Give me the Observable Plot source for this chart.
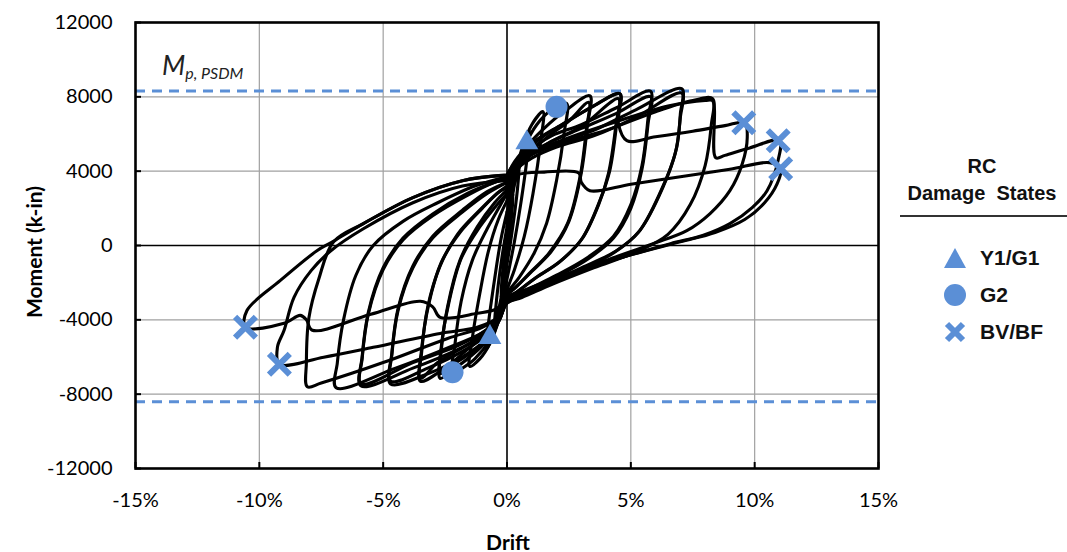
<!DOCTYPE html>
<html><head><meta charset="utf-8">
<script src="https://cdn.jsdelivr.net/npm/d3@7"></script>
<script src="https://cdn.jsdelivr.net/npm/@observablehq/plot@0.6"></script>
<style>
body{margin:0;background:#fff;}
#wrap{position:relative;width:1067px;height:552px;overflow:hidden;background:#fff;}
.ttl{position:absolute;font-family:Lato,sans-serif;font-weight:bold;font-size:21px;line-height:1;color:#000;white-space:nowrap;}
#legend{position:absolute;left:895px;top:153px;width:172px;font-family:"Liberation Sans",Arial,sans-serif;font-weight:bold;color:#111;}
#legend .head{text-align:center;font-size:20px;line-height:27px;padding-left:2px;}
#legend .rule{height:2px;background:#333;margin:8px 0 0 5px;}
#legend .item{display:flex;align-items:center;font-size:21px;height:37px;}
#legend .item svg{margin-left:48px;margin-right:13px;}
</style></head><body><div id="wrap"></div><script>
const xTicks = [-15,-10,-5,0,5,10,15];
const yTicks = [-12000,-8000,-4000,0,4000,8000,12000];
const xGrid = [-10,-5,5,10];
const yGrid = [-8000,-4000,4000,8000];
const mpLines = [8320,-8410];

const loop01 = [[0,0],[0.12,1500],[0.25,2800],[0.2,1800],[0.05,-100],[-0.12,-1600],[-0.25,-2800],[-0.2,-1800],[-0.05,100],[0,400]];
const loop02 = [[0,400],[0.25,2900],[0.5,4500],[0.42,3000],[0.2,700],[0,-1000],[-0.25,-2900],[-0.5,-4300],[-0.42,-2900],[-0.2,-600],[0,1000]];
const loop03 = [[0,1000],[0.3,3400],[0.6,5000],[0.9,6200],[0.8,4600],[0.55,2200],[0.3,200],[0,-1800],[-0.3,-3700],[-0.6,-5000],[-0.85,-5600],[-0.75,-4200],[-0.5,-1800],[-0.25,300],[0,1800]];
const loop04 = [[0,1800],[0.3,3600],[0.6,5200],[1.0,6500],[1.45,7200],[1.35,5500],[1.05,2800],[0.7,500],[0.3,-1300],[0,-2400],[-0.3,-3900],[-0.7,-5300],[-1.1,-6100],[-1.5,-6500],[-1.4,-5000],[-1.1,-2600],[-0.75,-300],[-0.35,1400],[0,2400]];
const loop05 = [[0,2400],[0.3,3800],[0.7,5300],[1.2,6500],[1.8,7300],[2.4,7650],[2.3,6000],[2.0,3500],[1.6,1200],[1.1,-400],[0.5,-1700],[0,-2600],[-0.3,-3900],[-0.7,-5100],[-1.3,-6100],[-1.8,-6600],[-2.2,-6900],[-2.1,-5300],[-1.85,-3000],[-1.4,-800],[-0.8,900],[-0.3,2100],[0,2800]];
const loop06 = [[0,2800],[0.3,4000],[0.8,5300],[1.5,6300],[2.4,7300],[3.35,8050],[3.25,6500],[3.0,3900],[2.5,1300],[1.8,-300],[1.0,-1400],[0.4,-2200],[0,-2700],[-0.3,-3900],[-0.8,-5100],[-1.5,-6000],[-2.2,-6700],[-2.7,-7150],[-2.65,-5600],[-2.4,-3300],[-1.9,-800],[-1.2,1000],[-0.5,2300],[0,3000]];
const loop07 = [[0,2600],[0.3,3700],[0.8,4800],[1.6,5800],[2.5,6700],[3.3,7700],[3.2,6200],[2.95,3700],[2.45,1200],[1.7,-400],[0.9,-1500],[0.3,-2300],[0,-2600],[-0.3,-3700],[-0.8,-4700],[-1.6,-5600],[-2.3,-6400],[-2.7,-6900],[-2.65,-5400],[-2.35,-3100],[-1.85,-700],[-1.1,1000],[-0.4,2200],[0,2800]];
const loop08 = [[0,3000],[0.3,4100],[0.8,5100],[1.6,6000],[2.6,6800],[3.6,7600],[4.56,8160],[4.45,6800],[4.15,4030],[3.75,2420],[3.06,430],[2.2,-800],[1.2,-1700],[0.4,-2500],[0,-2900],[-0.3,-4000],[-0.8,-5000],[-1.6,-5900],[-2.6,-6700],[-3.5,-7300],[-3.45,-5800],[-3.2,-3300],[-2.7,-1100],[-2.0,600],[-1.1,1900],[-0.4,2800],[0,3200]];
const loop09 = [[0,2800],[0.3,3900],[0.9,4800],[1.8,5600],[3,6400],[4.5,7900],[4.4,6500],[4.1,3900],[3.7,2200],[3.0,300],[2.1,-900],[1.1,-1800],[0.4,-2500],[0,-2800],[-0.3,-3800],[-0.9,-4700],[-1.8,-5500],[-2.8,-6300],[-3.5,-7150],[-3.45,-5600],[-3.15,-3100],[-2.65,-900],[-1.9,700],[-1,2000],[-0.3,2900],[0,3100]];
const loop10 = [[0,3200],[0.3,4200],[0.9,5100],[1.8,5900],[3,6500],[4.4,7400],[5.8,8300],[5.7,6900],[5.45,4300],[5.0,2200],[4.3,500],[3.3,-600],[2.0,-1600],[0.8,-2400],[0,-3000],[-0.3,-4000],[-0.8,-5000],[-1.8,-6000],[-3.2,-6900],[-4.7,-7450],[-4.65,-5900],[-4.4,-3500],[-3.8,-1200],[-3.0,400],[-1.8,1800],[-0.8,2800],[0,3400]];
const loop11 = [[0,3000],[0.3,4000],[0.9,4900],[1.8,5600],[3,6300],[4.4,7100],[5.8,8000],[5.7,6600],[5.45,4100],[5.0,2000],[4.3,400],[3.3,-700],[2.0,-1700],[0.8,-2500],[0,-3000],[-0.3,-3900],[-0.8,-4800],[-1.8,-5700],[-3.2,-6600],[-4.7,-7300],[-4.65,-5800],[-4.4,-3400],[-3.8,-1100],[-3.0,500],[-1.8,1900],[-0.8,2900],[0,3400]];
const loop12 = [[0,3400],[0.3,4200],[1,4900],[2,5500],[3.5,6200],[5.2,7300],[7.06,8430],[7.0,7100],[6.85,5270],[6.29,3110],[5.36,800],[4.4,-300],[3,-1200],[1.5,-2100],[0.5,-2700],[0,-3000],[-0.3,-3900],[-0.9,-4800],[-2,-5600],[-3.8,-6600],[-5.9,-7550],[-5.85,-6100],[-5.6,-3700],[-5.0,-1300],[-4.2,300],[-3,1600],[-1.6,2700],[-0.5,3400],[0,3600]];
const loop13 = [[0,3300],[0.3,4000],[1,4700],[2,5300],[3.5,5900],[5.2,6900],[7.06,8200],[7.0,6900],[6.8,5000],[6.2,2900],[5.3,700],[4.3,-400],[3,-1300],[1.5,-2200],[0.5,-2800],[0,-3100],[-0.3,-3900],[-0.9,-4600],[-2,-5400],[-3.8,-6300],[-5.9,-7450],[-5.85,-6000],[-5.6,-3600],[-5.0,-1200],[-4.2,400],[-3,1700],[-1.6,2800],[-0.5,3400],[0,3600]];
const loop14 = [[0,3600],[0.3,4300],[1,4900],[2.2,5500],[4,6200],[6,7200],[7.5,7800],[8.3,7900],[8.25,6500],[8.0,4300],[7.4,2200],[6.5,600],[5.3,-300],[3.5,-1200],[1.8,-2100],[0.6,-2800],[0,-3100],[-0.3,-3900],[-1,-4700],[-2.2,-5400],[-4.5,-6600],[-6.9,-7650],[-6.85,-6300],[-6.6,-4000],[-6.1,-1600],[-5.4,0],[-4.2,1300],[-2.8,2300],[-1.3,3200],[0,3700]];
const loop15 = [[0,3700],[0.3,4500],[1,5500],[2.2,6500],[3.5,7500],[4.56,8160],[4.5,6550],[4.84,5640],[6,5850],[7.5,6150],[8.8,6450],[9.6,6600],[9.7,5800],[9.5,4400],[9.0,2950],[8.2,1720],[7.26,800],[5.9,100],[4,-800],[2,-1800],[0.6,-2600],[0,-3000],[-0.3,-3800],[-1,-4400],[-2.4,-5000],[-5,-6300],[-7.5,-7400],[-8.06,-7600],[-8.1,-6300],[-8.0,-3900],[-7.6,-1800],[-7.0,200],[-5.8,1180],[-3.8,2580],[-1.8,3490],[0,3800]];
const loop16 = [[0,3800],[0.3,4400],[1,5000],[2.5,5800],[4.5,6700],[6.5,7500],[8.0,7800],[8.3,7790],[8.43,4720],[8.8,4850],[9.8,5250],[11.0,5640],[10.95,4600],[10.5,2950],[9.9,2040],[9.0,1180],[7.9,540],[6.6,100],[4.5,-700],[2.2,-1700],[0.6,-2600],[0,-3000],[-0.4,-3900],[-1.2,-4400],[-2.7,-4730],[-5.4,-5480],[-7.4,-6010],[-9.19,-6390],[-9.27,-5480],[-9.0,-4560],[-8.6,-2790],[-7.9,-1340],[-7.1,-270],[-5.8,900],[-3.8,2300],[-1.8,3200],[0,3500]];
const loop17 = [[0,3400],[0.4,3800],[1.5,3950],[2.9,3900],[3.0,3400],[3.35,2950],[5,3300],[7,3700],[9,4100],[10.6,4460],[11.05,4130],[10.9,3300],[10.4,2300],[9.6,1400],[8.4,700],[7,200],[5,-500],[2.5,-1500],[0.7,-2400],[0,-2800],[-0.4,-3400],[-1.2,-3650],[-2.7,-3870],[-3.0,-3300],[-3.5,-3000],[-5.5,-3700],[-7.86,-4560],[-8.1,-4000],[-8.35,-3760],[-9,-4190],[-10.56,-4400],[-10.5,-3500],[-9.15,-1880],[-7.66,-270],[-7.1,160],[-5.8,1180],[-3.8,2580],[-1.8,3490],[-0.3,3760]];

const loops = [loop01,loop02,loop03,loop04,loop05,loop06,loop07,loop08,loop09,loop10,loop11,loop12,loop13,loop14,loop15,loop16,loop17];

const triDrift = [0.8,-0.69], triMoment = [5530,-4940];
const circDrift = [2.0,-2.2], circMoment = [7460,-6820];
const crossDrift = [9.56,10.95,11.05,-10.56,-9.19], crossMoment = [6600,5640,4130,-4400,-6390];

const blue = "#5B8FD6";
const curveData = loops.flatMap((lp,i)=>lp.map(([x,y])=>({x,y,c:i})));
const tri = triDrift.map((x,i)=>({x,y:triMoment[i]}));
const circ = circDrift.map((x,i)=>({x,y:circMoment[i]}));
const cross = crossDrift.map((x,i)=>({x,y:crossMoment[i]}));

const chart = Plot.plot({
  width:1067, height:552,
  marginLeft:135, marginRight:189, marginTop:22, marginBottom:84,
  x:{domain:[-15,15]}, y:{domain:[-12000,12000]},
  style:{fontFamily:"Lato, sans-serif", fontSize:"20px", color:"#000", background:"#fff"},
  marks:[
    Plot.gridX(xGrid,{stroke:"#a0a0a0", strokeOpacity:1, strokeWidth:1.2}),
    Plot.gridY(yGrid,{stroke:"#a0a0a0", strokeOpacity:1, strokeWidth:1.2}),
    Plot.ruleX([0],{stroke:"#000", strokeWidth:1.6}),
    Plot.ruleY([0],{stroke:"#000", strokeWidth:1.6}),
    Plot.ruleY(mpLines,{stroke:blue, strokeWidth:3, strokeDasharray:"10,7"}),
    Plot.line(curveData,{x:"x", y:"y", z:"c", stroke:"#000", strokeWidth:3.1, curve:"catmull-rom", strokeLinejoin:"round"}),
    Plot.dot(tri,{x:"x", y:"y", symbol:"triangle", fill:blue, r:8.5}),
    Plot.dot(circ,{x:"x", y:"y", symbol:"circle", fill:blue, r:11}),
    Plot.dot(cross,{x:"x", y:"y", symbol:"times", stroke:blue, fill:"none", strokeWidth:6, r:9.5}),
    Plot.frame({stroke:"#000", strokeWidth:2.6}),
    Plot.axisX({ticks:xTicks, tickFormat:d=>d+"%", tickSize:0, tickPadding:24, label:null}),
    Plot.axisX({ticks:xTicks, tickFormat:()=>"", tickSize:-6, strokeWidth:2, label:null}),
    Plot.axisY({ticks:yTicks, tickFormat:d=>String(d), tickSize:0, tickPadding:23, label:null}),
    Plot.axisY({ticks:yTicks, tickFormat:()=>"", tickSize:-6, strokeWidth:2, label:null})
  ]
});
const wrap = document.getElementById("wrap");
wrap.appendChild(chart);

// M_p, PSDM annotation anchored to the upper dashed line
const sx = chart.scale("x"), sy = chart.scale("y");
const svg = d3.select(chart);
const ann = svg.append("text")
  .attr("x", sx.apply(-15) + 27).attr("y", sy.apply(mpLines[0]) - 15)
  .attr("text-anchor","start")
  .attr("font-family","Lato, sans-serif").attr("font-style","italic").attr("fill","#222");
ann.append("tspan").attr("font-size","27px").text("M");
ann.append("tspan").attr("font-size","16px").attr("dy","4").text("p, PSDM");

const yl = document.createElement("div");
yl.className="ttl"; yl.textContent="Moment (k-in)";
yl.style.left="33px"; yl.style.top="252px";
yl.style.transform="translate(-50%,-50%) rotate(-90deg)";
wrap.appendChild(yl);
const xl = document.createElement("div");
xl.className="ttl"; xl.textContent="Drift";
xl.style.left="508px"; xl.style.top="541px";
xl.style.transform="translate(-50%,-50%)";
wrap.appendChild(xl);

const lg = document.createElement("div");
lg.id="legend";
lg.innerHTML = `<div class="head">RC<br>Damage&nbsp; States</div><div class="rule"></div>
<div style="height:22px"></div>
<div class="item"><svg width="24" height="22"><polygon points="12,1 23,21 1,21" fill="${blue}"/></svg>Y1/G1</div>
<div class="item"><svg width="24" height="24"><circle cx="12" cy="12" r="11" fill="${blue}"/></svg>G2</div>
<div class="item"><svg width="24" height="24"><path d="M4,4L20,20M20,4L4,20" stroke="${blue}" stroke-width="6"/></svg>BV/BF</div>`;
wrap.appendChild(lg);
</script></body></html>
